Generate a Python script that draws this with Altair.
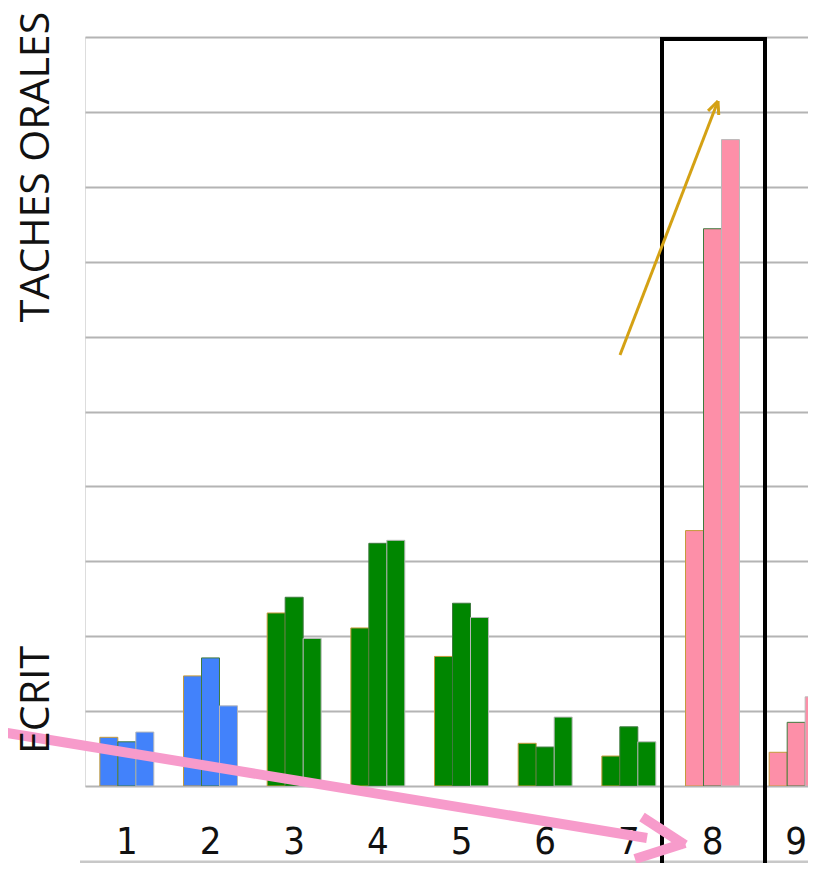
import altair as alt
import pandas as pd
import numpy as np

# ---- data ----
categories = ["1", "2", "3", "4", "5", "6", "7", "8", "9"]
groups = ["bleu", "bleu", "vert", "vert", "vert", "vert", "vert", "rose", "rose"]
serie_1 = [0.65, 1.47, 2.31, 2.11, 1.73, 0.57, 0.40, 3.41, 0.45]
serie_2 = [0.59, 1.71, 2.52, 3.24, 2.44, 0.52, 0.79, 7.44, 0.85]
serie_3 = [0.72, 1.07, 1.97, 3.28, 2.25, 0.92, 0.59, 8.63, 1.19]
series_names = ["s1", "s2", "s3"]
y_ticks = list(range(0, 11))

rows = []
for i, c in enumerate(categories):
    for s, vals in zip(series_names, [serie_1, serie_2, serie_3]):
        rows.append({"cat": c, "grp": groups[i], "serie": s, "val": vals[i]})
df = pd.DataFrame(rows)

W, H = 723, 749
BG = "#ebebeb"
BLUE, GREEN, PINK = "#4282fb", "#008600", "#fd8fa8"
ARROW_PINK = "#f79bcb"
GOLD = "#d4a114"

bars = alt.Chart(df).mark_bar(clip=True, strokeWidth=1).encode(
    x=alt.X("cat:N", sort=categories,
            scale=alt.Scale(domain=categories, range=[0, 753], paddingInner=0.355, paddingOuter=0.1775),
            axis=alt.Axis(title=None, ticks=False, domain=False, labelAngle=0,
                          labelFont="DejaVu Sans Condensed, Roboto Condensed, Liberation Sans, sans-serif",
                          labelFontSize=38,
                          labelColor="#111111", labelPadding=75, labelBaseline="bottom")),
    xOffset=alt.XOffset("serie:N", sort=series_names, scale=alt.Scale(paddingInner=0, paddingOuter=0)),
    y=alt.Y("val:Q", scale=alt.Scale(domain=[0, 10], nice=False),
            axis=alt.Axis(values=y_ticks, labels=False, ticks=False, domain=False, title=None,
                          grid=True, gridColor="#b4b4b4", gridWidth=2)),
    color=alt.Color("grp:N", scale=alt.Scale(domain=["bleu", "vert", "rose"], range=[BLUE, GREEN, PINK]), legend=None),
    stroke=alt.Stroke("serie:N", scale=alt.Scale(domain=series_names, range=["#c49a3a", "#3f7a3f", "#b9b9b9"]), legend=None),
)

one = alt.Data(values=[{"k": 1}])

def seg(x1, y1, x2, y2, color, width):
    return alt.Chart(one).mark_rule(color=color, strokeWidth=width, strokeCap="butt").encode(
        x=alt.value(x1), y=alt.value(y1), x2=alt.value(x2), y2=alt.value(y2))

# side texts
t1 = alt.Chart(one).mark_text(text="TACHES ORALES", angle=270, font="Open Sans", fontSize=41,
                              color="#111111", align="center", baseline="middle").encode(
    x=alt.value(-48), y=alt.value(130))
t2 = alt.Chart(one).mark_text(text="ECRIT", angle=270, font="Open Sans", fontSize=41,
                              color="#111111", align="center", baseline="middle").encode(
    x=alt.value(-48), y=alt.value(663))

# bottom grey line
bottom_line = seg(-5, 825, W, 825, "#c8c8c8", 3)

# black frame around category 8
frame = alt.Chart(one).mark_rect(fillOpacity=0, stroke="black", strokeWidth=4).encode(
    x=alt.value(577), x2=alt.value(680), y=alt.value(2), y2=alt.value(870))

# gold arrow
gx1, gy1, gx2, gy2 = 535, 318, 633, 64
v = np.array([gx2 - gx1, gy2 - gy1], dtype=float)
v /= np.linalg.norm(v)
heads = []
for ang in (0.42, -0.42):
    c, s = np.cos(ang), np.sin(ang)
    r = np.array([c * -v[0] - s * -v[1], s * -v[0] + c * -v[1]])
    heads.append(seg(gx2, gy2, float(gx2 + 14 * r[0]), float(gy2 + 14 * r[1]), GOLD, 3))
gold = alt.layer(seg(gx1, gy1, gx2, gy2, GOLD, 3), *heads)

# pink arrow
pink = alt.layer(
    seg(-90, 694, 562, 801, ARROW_PINK, 10),
    seg(557, 780, 600, 808, ARROW_PINK, 10),
    seg(550, 822, 600, 806, ARROW_PINK, 10),
)

chart = alt.layer(bars, bottom_line, frame, gold, pink, t1, t2).properties(
    width=W, height=H,
    autosize=alt.AutoSizeParams(type="none"),
    padding={"left": 77, "top": 29, "right": 0, "bottom": 77},
).configure_view(fill=BG, stroke=None).configure(background="white")

chart.save("out.html", embed_options={"renderer": "svg", "actions": False})
